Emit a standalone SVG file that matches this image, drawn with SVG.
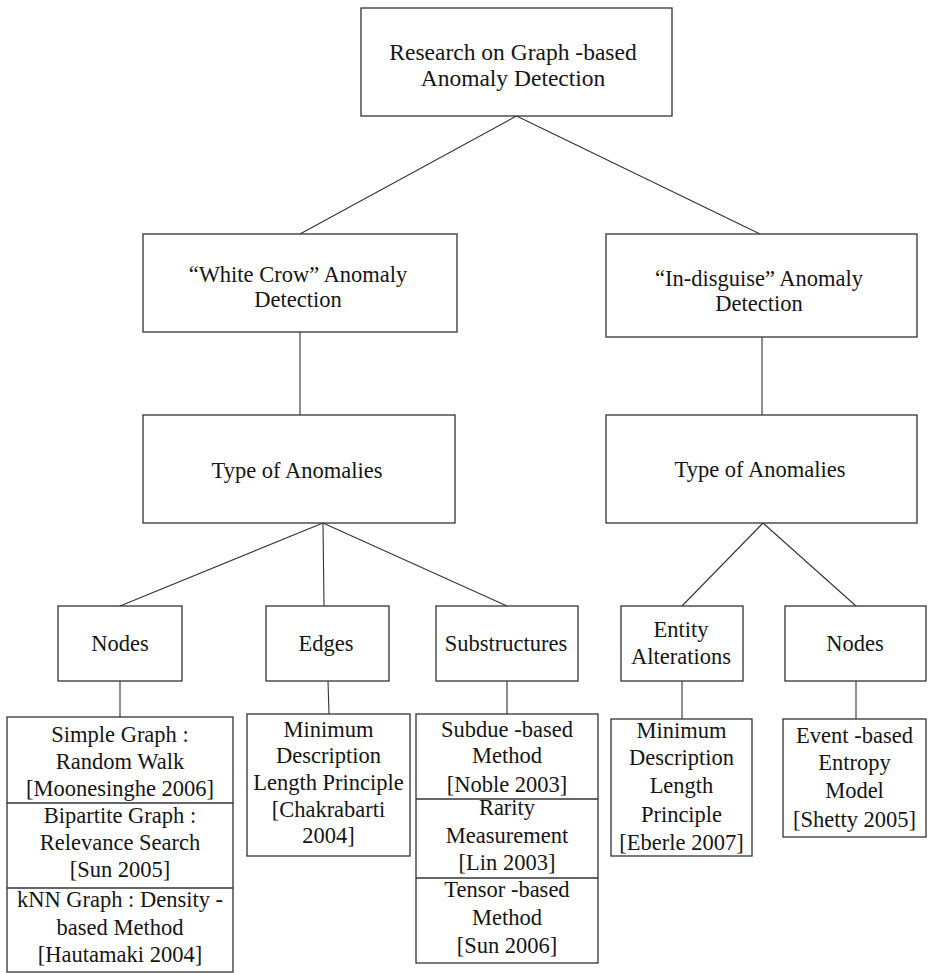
<svg xmlns="http://www.w3.org/2000/svg" width="928" height="973" viewBox="0 0 928 973">
  <style>
    .box { fill: #ffffff; stroke: #333333; stroke-width: 1.3; }
    .div { stroke: #333333; stroke-width: 1.3; }
    .link { stroke: #333333; stroke-width: 1.1; fill: none; }
    .lbl { font-family: "Liberation Serif", "Times New Roman", serif; font-size: 22.5px; fill: #151515; text-anchor: middle; }
    .big { font-size: 23.5px; }
  </style>
  <rect x="0" y="0" width="928" height="973" fill="#ffffff"/>

  <!-- tree connectors -->
  <g id="connectors">
    <line class="link" x1="516.5" y1="116" x2="300" y2="234"/>
    <line class="link" x1="516.5" y1="116" x2="760" y2="234"/>
    <line class="link" x1="300" y1="332" x2="300" y2="415"/>
    <line class="link" x1="762" y1="337" x2="762" y2="415"/>
    <line class="link" x1="323" y1="523" x2="120" y2="606"/>
    <line class="link" x1="323" y1="523" x2="324" y2="606"/>
    <line class="link" x1="323" y1="523" x2="507" y2="606"/>
    <line class="link" x1="763" y1="523" x2="682" y2="606"/>
    <line class="link" x1="763" y1="523" x2="856" y2="606"/>
    <line class="link" x1="120" y1="681" x2="120" y2="717"/>
    <line class="link" x1="328" y1="681" x2="329" y2="714"/>
    <line class="link" x1="507" y1="681" x2="507" y2="714"/>
    <line class="link" x1="682" y1="681" x2="682" y2="719"/>
    <line class="link" x1="856" y1="681" x2="856" y2="719"/>
  </g>

  <g id="root">
    <rect class="box" x="361" y="8" width="311" height="108"/>
    <text class="lbl big"><tspan x="513" y="60">Research on Graph -based</tspan><tspan x="513" y="86">Anomaly Detection</tspan></text>
  </g>

  <g id="white-crow">
    <rect class="box" x="143" y="234" width="314" height="98"/>
    <text class="lbl"><tspan x="298" y="282">“White Crow” Anomaly</tspan><tspan x="298" y="307">Detection</tspan></text>
  </g>

  <g id="in-disguise">
    <rect class="box" x="606" y="234" width="311" height="103"/>
    <text class="lbl"><tspan x="759" y="286">“In-disguise” Anomaly</tspan><tspan x="759" y="311">Detection</tspan></text>
  </g>

  <g id="types-left">
    <rect class="box" x="143" y="415" width="312" height="108"/>
    <text class="lbl" x="297" y="478">Type of Anomalies</text>
  </g>

  <g id="types-right">
    <rect class="box" x="606" y="415" width="311" height="108"/>
    <text class="lbl" x="760" y="477">Type of Anomalies</text>
  </g>

  <g id="nodes-left">
    <rect class="box" x="58" y="606" width="124" height="75"/>
    <text class="lbl" x="120" y="651">Nodes</text>
  </g>

  <g id="edges">
    <rect class="box" x="266" y="606" width="123" height="75"/>
    <text class="lbl" x="326" y="651">Edges</text>
  </g>

  <g id="substructures">
    <rect class="box" x="436" y="606" width="142" height="75"/>
    <text class="lbl" x="506" y="651">Substructures</text>
  </g>

  <g id="entity-alterations">
    <rect class="box" x="621" y="606" width="122" height="75"/>
    <text class="lbl"><tspan x="681" y="637">Entity</tspan><tspan x="681" y="664">Alterations</tspan></text>
  </g>

  <g id="nodes-right">
    <rect class="box" x="785" y="606" width="141" height="75"/>
    <text class="lbl" x="855" y="651">Nodes</text>
  </g>

  <g id="node-methods">
    <rect class="box" x="7" y="717" width="226" height="255"/>
    <line class="div" x1="7" y1="803" x2="233" y2="803"/>
    <line class="div" x1="7" y1="888" x2="233" y2="888"/>
    <text class="lbl"><tspan x="120" y="742">Simple Graph :</tspan><tspan x="120" y="769">Random Walk</tspan><tspan x="120" y="796">[Moonesinghe 2006]</tspan></text>
    <text class="lbl"><tspan x="120" y="823">Bipartite Graph :</tspan><tspan x="120" y="850">Relevance Search</tspan><tspan x="120" y="877">[Sun 2005]</tspan></text>
    <text class="lbl"><tspan x="120" y="907">kNN Graph : Density -</tspan><tspan x="120" y="935">based Method</tspan><tspan x="120" y="962">[Hautamaki 2004]</tspan></text>
  </g>

  <g id="edge-methods">
    <rect class="box" x="247" y="714" width="163" height="142"/>
    <text class="lbl"><tspan x="328.5" y="737">Minimum</tspan><tspan x="328.5" y="763">Description</tspan><tspan x="328.5" y="790">Length Principle</tspan><tspan x="328.5" y="817">[Chakrabarti</tspan><tspan x="328.5" y="843">2004]</tspan></text>
  </g>

  <g id="substructure-methods">
    <rect class="box" x="416" y="714" width="182" height="249"/>
    <line class="div" x1="416" y1="799" x2="598" y2="799"/>
    <line class="div" x1="416" y1="878" x2="598" y2="878"/>
    <text class="lbl"><tspan x="507" y="737">Subdue -based</tspan><tspan x="507" y="763">Method</tspan><tspan x="507" y="792">[Noble 2003]</tspan></text>
    <text class="lbl"><tspan x="507" y="815">Rarity</tspan><tspan x="507" y="843">Measurement</tspan><tspan x="507" y="870">[Lin 2003]</tspan></text>
    <text class="lbl"><tspan x="507" y="897">Tensor -based</tspan><tspan x="507" y="925">Method</tspan><tspan x="507" y="953">[Sun 2006]</tspan></text>
  </g>

  <g id="entity-methods">
    <rect class="box" x="611" y="719" width="141" height="137"/>
    <text class="lbl"><tspan x="681.5" y="738">Minimum</tspan><tspan x="681.5" y="765">Description</tspan><tspan x="681.5" y="793">Length</tspan><tspan x="681.5" y="822">Principle</tspan><tspan x="681.5" y="850">[Eberle 2007]</tspan></text>
  </g>

  <g id="node-methods-right">
    <rect class="box" x="783" y="719" width="143" height="118"/>
    <text class="lbl"><tspan x="854.5" y="743">Event -based</tspan><tspan x="854.5" y="770">Entropy</tspan><tspan x="854.5" y="798">Model</tspan><tspan x="854.5" y="827">[Shetty 2005]</tspan></text>
  </g>
</svg>
